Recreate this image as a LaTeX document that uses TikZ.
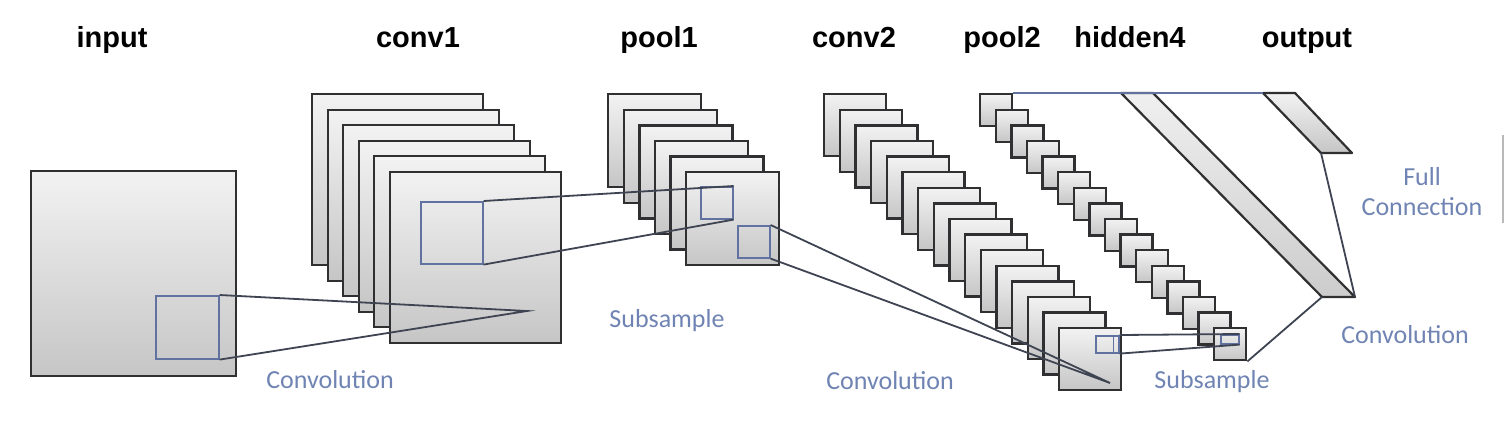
\documentclass[tikz,border=0pt]{standalone}
\usepackage{fontspec}
\setmainfont{Liberation Sans}
\newfontfamily\notefont{Carlito}
\usepackage{xcolor}
\usepackage{tikz}
\usetikzlibrary{calc, shadows}
\definecolor{mapedge}{RGB}{48,48,50}
\definecolor{fieldblue}{RGB}{98,114,160}
\definecolor{linkgray}{RGB}{62,68,82}
\definecolor{notecolor}{RGB}{112,132,180}
\tikzset{
  fmap/.style   = {rectangle, draw=mapedge, line width=2.4pt, top color=gray!10,
                   bottom color=gray!45, inner sep=0pt, minimum size=#1, anchor=north west,
                   drop shadow={shadow xshift=1.2pt, shadow yshift=-1.2pt, opacity=0.22}},
  field/.style  = {rectangle, draw=fieldblue, line width=1.6pt, inner sep=0pt, anchor=north west},
  strip/.style  = {draw=mapedge, line width=2.2pt, line join=round},
  link/.style   = {draw=linkgray, line width=1.8pt},
  layer/.style  = {font=\fontsize{29}{30}\selectfont\bfseries, anchor=base},
  note/.style   = {font=\notefont\fontsize{26}{30}\selectfont, text=notecolor,
                   anchor=base, align=center},
}

\begin{document}
\begin{tikzpicture}[x=1pt, y=-1pt]

    \path[use as bounding box, fill=white] (0,0) rectangle (1506,440);

    %% Layer titles
    \foreach \x/\lbl in {
      112/input,
      418/conv1,
      659/pool1,
      854/conv2,
      1002/pool2,
      1130/hidden4,
      1307/output}
    {
      \node[layer] (t-\lbl) at (\x,47) {\lbl};
    }

    %% Feature maps
    \node[fmap=205pt] (in) at (30,170) {};
    \foreach \i in {1,...,6}
      \node[fmap=171pt] (c1-\i) at ({311+15.5*(\i-1)},{93+15.5*(\i-1)}) {};
    \foreach \i in {1,...,6}
      \node[fmap=93pt] (p1-\i) at ({607+15.6*(\i-1)},{93+15.6*(\i-1)}) {};
    \foreach \i in {1,...,16}
      \node[fmap=62pt] (c2-\i) at ({823+15.67*(\i-1)},{93+15.6*(\i-1)}) {};
    \foreach \i in {1,...,16}
      \node[fmap=32pt] (p2-\i) at ({979+15.6*(\i-1)},{93+15.6*(\i-1)}) {};

    %% hidden4 and output strips
    \coordinate (h4a) at (1121,93);
    \coordinate (h4b) at (1153,93);
    \coordinate (h4c) at (1355,297);
    \coordinate (h4d) at (1322,297);
    \coordinate (oa) at (1263,93);
    \coordinate (ob) at (1295,93);
    \coordinate (oc) at (1352,153);
    \coordinate (od) at (1321,153);
    \draw[strip, top color=gray!12, bottom color=gray!40] (h4a) -- (h4b) -- (h4c) -- (h4d) -- cycle;
    \draw[strip, top color=gray!10, bottom color=gray!45] (oa) -- (ob) -- (oc) -- (od) -- cycle;

    %% Receptive fields
    \node[field, minimum size=63pt] (f0) at (155,295) {};
    \node[field, minimum size=62pt] (f1) at (420,201) {};
    \node[field, minimum size=32pt] (f2) at (700,186) {};
    \node[field, minimum size=32pt] (f3) at (737,225) {};
    \node[field, minimum width=23pt, minimum height=17pt] (f4) at (1095,335) {};
    \draw[fieldblue, line width=1.3pt] ($(f4.north east)+(-6,0)$) -- ($(f4.south east)+(-6,0)$);
    \node[field, minimum width=18pt, minimum height=9pt] (f5) at (1220,334) {};
    \coordinate (a1) at (527,311);
    \coordinate (a2) at (1110,383);

    %% Connections
    \draw[link] (f0.north east) -- (a1) -- (f0.south east);
    \draw[link] (f1.north east) -- (f2.north east);
    \draw[link] (f1.south east) -- (f2.south east);
    \draw[link] (f3.north east) -- (a2) -- (f3.south east);
    \draw[link] (f4.north east) -- (f5.north east);
    \draw[link] (f4.south east) -- (f5.south east);
    \draw[link] (p2-16.south east) -- (h4d);
    \draw[link] (od) -- (h4c);
    \draw[fieldblue, line width=1.6pt] (p2-1.north east) -- (oa);

    %% Operation labels
    \node[note] (n-conv1) at (330,388) {Convolution};
    \node[note] (n-sub1)  at (667,327) {Subsample};
    \node[note] (n-conv2) at (890,389) {Convolution};
    \node[note] (n-sub2)  at (1212,388) {Subsample};
    \node[note] (n-full)  at (1422,215) {Full\\Connection};
    \node[note] (n-conv3) at (1405,343) {Convolution};

    \draw[gray!55, line width=1.5pt] (1503,135) -- (1503,223);

\end{tikzpicture}
\end{document}
